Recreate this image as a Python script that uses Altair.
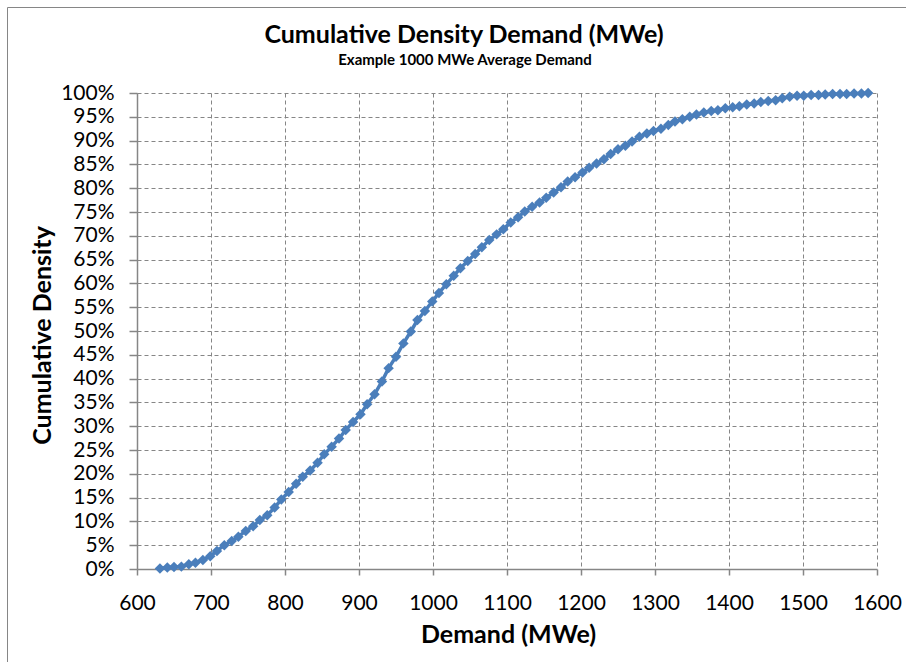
import altair as alt
import pandas as pd

demand = [631, 641, 650, 660, 670, 679, 689, 699, 708, 718,
          728, 737, 747, 757, 766, 776, 786, 795, 805, 815,
          824, 834, 844, 853, 863, 873, 882, 892, 902, 911,
          921, 931, 940, 950, 960, 970, 979, 989, 999, 1008,
          1018, 1028, 1037, 1047, 1057, 1066, 1076, 1086, 1095, 1105,
          1115, 1124, 1134, 1144, 1153, 1163, 1173, 1182, 1192, 1202,
          1211, 1221, 1231, 1240, 1250, 1260, 1269, 1279, 1289, 1298,
          1308, 1318, 1327, 1337, 1347, 1356, 1366, 1376, 1385, 1395,
          1405, 1414, 1424, 1434, 1443, 1453, 1463, 1472, 1482, 1492,
          1501, 1511, 1521, 1530, 1540, 1550, 1559, 1569, 1579, 1588]

density = [0.1, 0.3, 0.4, 0.5, 1.0, 1.3, 1.9, 2.7, 3.8, 5.0,
           5.9, 6.8, 8.0, 9.0, 10.3, 11.3, 12.9, 14.6, 16.2, 17.9,
           19.4, 20.7, 22.3, 24.1, 25.7, 27.4, 29.2, 30.9, 32.5, 34.6,
           36.7, 39.4, 42.2, 44.6, 47.4, 49.9, 52.3, 54.2, 56.2, 58.0,
           59.8, 61.6, 63.2, 64.7, 66.2, 67.6, 69.1, 70.3, 71.4, 72.8,
           73.9, 75.1, 76.1, 77.0, 78.0, 79.1, 80.2, 81.4, 82.3, 83.3,
           84.3, 85.2, 86.1, 87.2, 88.2, 88.9, 89.8, 90.8, 91.5, 92.0,
           92.5, 93.3, 94.0, 94.5, 95.0, 95.5, 95.9, 96.2, 96.4, 96.8,
           97.0, 97.2, 97.6, 97.8, 98.1, 98.3, 98.5, 98.9, 99.2, 99.4,
           99.4, 99.6, 99.6, 99.7, 99.8, 99.8, 99.8, 99.9, 99.9, 100.0]

x_ticks = [600, 700, 800, 900, 1000, 1100, 1200, 1300, 1400, 1500, 1600]
y_ticks = [0, 5, 10, 15, 20, 25, 30, 35, 40, 45, 50, 55, 60, 65, 70,
           75, 80, 85, 90, 95, 100]

title_text = "Cumulative Density Demand (MWe)"
subtitle_text = "Example 1000 MWe Average Demand"

df = pd.DataFrame({"demand": demand, "density": density})

FONT = "Lato"
BLUE = "#4A7EBB"
GRAY = "#868686"

W, H = 740, 476
PAD_L, PAD_T = 137, 93

x_enc = alt.X("demand:Q",
              scale=alt.Scale(domain=[600, 1600], nice=False, zero=False),
              axis=alt.Axis(values=x_ticks, tickCount=30,
                            title="Demand (MWe)", format="d",
                            labelFontSize=21, labelPadding=28,
                            labelBaseline="middle", labelFlush=False,
                            labelOverlap=False,
                            tickSize=6, titleFontSize=25,
                            titleX=W / 2 + 1, titleY=65,
                            titleBaseline="middle"))
y_enc = alt.Y("density:Q",
              scale=alt.Scale(domain=[0, 100], nice=False),
              axis=alt.Axis(values=y_ticks, tickCount=40,
                            title="Cumulative Density",
                            labelExpr="datum.value + '%'",
                            labelFontSize=21, labelPadding=15,
                            labelOverlap=False,
                            tickSize=8, titleFontSize=25,
                            titleX=-95, titleY=H / 2 + 4, titleAngle=-90,
                            titleBaseline="middle", titleAlign="center"))

line = alt.Chart(df).mark_line(color=BLUE, strokeWidth=3.5).encode(
    x=x_enc, y=y_enc)
pts = alt.Chart(df).mark_point(shape="diamond", filled=True, size=110,
                               color=BLUE, opacity=1).encode(
    x="demand:Q", y="density:Q")

one = alt.Data(values=[{"a": 1}])

border = alt.Chart(one).mark_rect(
    fill=None, stroke=GRAY, strokeWidth=1).encode(
    x=alt.value(7.5 - PAD_L), x2=alt.value(930 - PAD_L),
    y=alt.value(7.5 - PAD_T), y2=alt.value(690 - PAD_T))

title = alt.Chart(one).mark_text(
    text=title_text, font=FONT, fontSize=25, fontWeight="bold",
    color="black", align="center", baseline="middle").encode(
    x=alt.value(464 - PAD_L), y=alt.value(35 - PAD_T))

subtitle = alt.Chart(one).mark_text(
    text=subtitle_text, font=FONT, fontSize=15, fontWeight="bold",
    color="black", align="center", baseline="middle").encode(
    x=alt.value(465 - PAD_L), y=alt.value(60 - PAD_T))

chart = alt.layer(border, title, subtitle, line, pts).properties(
    width=W, height=H,
    autosize=alt.AutoSizeParams(type="none"),
    padding={"left": PAD_L, "top": PAD_T, "right": 906 - PAD_L - W,
             "bottom": 662 - PAD_T - H},
).configure(font=FONT, background="white").configure_view(
    stroke=None
).configure_axis(
    labelFont=FONT, titleFont=FONT, labelColor="black", titleColor="black",
    titleFontWeight="bold", domainColor=GRAY, tickColor=GRAY,
    gridColor=GRAY, gridDash=[4, 3], grid=True, gridWidth=1,
    domainWidth=1.5, tickWidth=1.5,
)

chart.save("out.html", embed_options={"renderer": "svg", "actions": False})
